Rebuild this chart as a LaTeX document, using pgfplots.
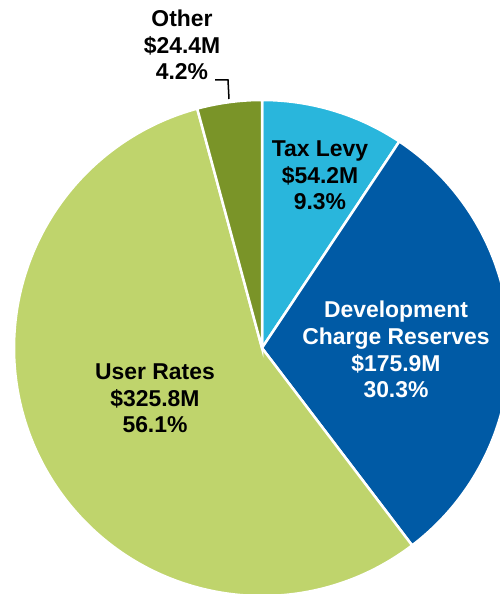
\documentclass[border=0pt]{standalone}
\usepackage{fontspec}
\setmainfont{Liberation Sans}
\usepackage{pgfplots}
\pgfplotsset{compat=1.18}
\definecolor{taxlevy}{HTML}{29B6DC}
\definecolor{devres}{HTML}{005AA5}
\definecolor{userrates}{HTML}{BFD46C}
\definecolor{other}{HTML}{7A9428}

% slice values ($M), clockwise from 12 o'clock
\def\vTax{54.2}
\def\vDev{175.9}
\def\vUser{325.8}
\def\vOther{24.4}
\pgfmathsetmacro\total{\vTax+\vDev+\vUser+\vOther}
\pgfmathsetmacro\aA{90}
\pgfmathsetmacro\aB{\aA-360*(\vTax/\total)}
\pgfmathsetmacro\aC{\aB-360*(\vDev/\total)}
\pgfmathsetmacro\aD{\aC-360*(\vUser/\total)}
\pgfmathsetmacro\aE{\aD-360*(\vOther/\total)}
\def\R{248bp}

\begin{document}
\begin{tikzpicture}
\begin{axis}[
  scale only axis, width=500bp, height=594bp,
  xmin=-262, xmax=238, ymin=-246, ymax=348,
  hide axis, clip mode=global,
]
\addplot[draw=none] coordinates {(0,0)};
\fill[taxlevy, draw=white, line width=2.5bp] (axis cs:0,0) -- ++(\aA:\R)
  arc[start angle=\aA, end angle=\aB, radius=\R] -- cycle;
\fill[devres, draw=white, line width=2.5bp] (axis cs:0,0) -- ++(\aB:\R)
  arc[start angle=\aB, end angle=\aC, radius=\R] -- cycle;
\fill[userrates, draw=white, line width=2.5bp] (axis cs:0,0) -- ++(\aC:\R)
  arc[start angle=\aC, end angle=\aD, radius=\R] -- cycle;
\fill[other, draw=white, line width=2.5bp] (axis cs:0,0) -- ++(\aD:\R)
  arc[start angle=\aD, end angle=\aE, radius=\R] -- cycle;

% labels: anchor at the baseline of the last line
\begin{scope}[every node/.style={align=center, anchor=base, inner sep=0pt,
    font=\fontsize{23}{27}\selectfont\bfseries}]
\node at (axis cs:-80,268) {Other\\\$24.4M\\4.2\%};
\node at (axis cs:58,138) {Tax Levy\\\$54.2M\\9.3\%};
\node[white] at (axis cs:134,-50) {Development\\Charge Reserves\\\$175.9M\\30.3\%};
\node at (axis cs:-107,-85) {User Rates\\\$325.8M\\56.1\%};
\end{scope}
\draw[black, line width=1.5bp] (axis cs:-47,268) -- (axis cs:-34,268) -- (axis cs:-33,249);
\end{axis}
\pgfresetboundingbox
\path[use as bounding box] (0,0) rectangle (500bp,594bp);
\end{tikzpicture}
\end{document}
